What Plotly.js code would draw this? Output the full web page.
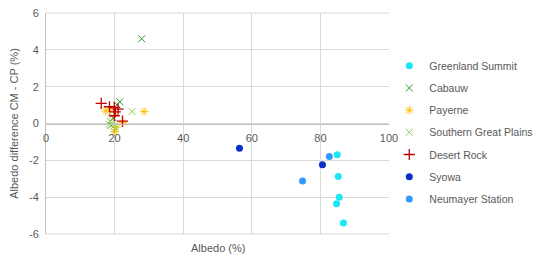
<!DOCTYPE html>
<html>
<head>
<meta charset="utf-8">
<script src="https://cdn.plot.ly/plotly-3.0.1.min.js"></script>
<style>html,body{margin:0;padding:0;background:#fff;}#chart{width:546px;height:260px;}</style>
</head>
<body>
<div id="chart"></div>
<script>
// Data
const greenlandX = [84.9, 85.2, 85.5, 84.7, 86.7];
const greenlandY = [-1.70, -2.88, -4.00, -4.36, -5.40];
const cabauwX = [27.9, 21.5, 20.7, 19.6, 19.0];
const cabauwY = [4.60, 1.18, 1.02, 0.30, -0.10];
const payerneX = [17.4, 18.7, 22.4, 28.6, 20.0, 20.4];
const payerneY = [0.68, 0.74, 0.05, 0.65, -0.45, -0.20];
const sgpX = [25.1, 19.3, 18.8, 19.8, 20.2, 18.5];
const sgpY = [0.65, 0.40, 0.10, -0.15, -0.30, -0.05];
const desertX = [16.1, 18.5, 19.9, 21.0, 20.2, 19.9, 22.3];
const desertY = [1.09, 0.91, 0.87, 0.78, 0.63, 0.42, 0.13];
const syowaX = [56.4, 80.6];
const syowaY = [-1.35, -2.24];
const neumayerX = [82.6, 74.8];
const neumayerY = [-1.79, -3.12];
const seriesNames = ["Greenland Summit", "Cabauw", "Payerne", "Southern Great Plains", "Desert Rock", "Syowa", "Neumayer Station"];
const xTicks = [0, 20, 40, 60, 80, 100];
const yTicks = [-6, -4, -2, 0, 2, 4, 6];

const txt = '#595959';
const font = {family: 'Liberation Sans, Arial, sans-serif', size: 11, color: txt};
const legFont = {family: 'Liberation Sans, Arial, sans-serif', size: 10.5, color: txt};

function tr(name, x, y, symbol, color, size, lw) {
  return {
    type: 'scatter', mode: 'markers', name: name, x: x, y: y,
    legendgroup: name,
    marker: {symbol: symbol, color: color, size: size, line: {color: color, width: lw}},
    cliponaxis: false
  };
}

const data = [
  tr(seriesNames[0], greenlandX, greenlandY, 'circle', '#1ae6f5', 7, 0),
  tr(seriesNames[1], cabauwX, cabauwY, 'x-thin-open', '#2e9a2e', 7, 1),
  tr(seriesNames[2], payerneX, payerneY, 'asterisk-open', '#ffc000', 7, 1),
  tr(seriesNames[3], sgpX, sgpY, 'x-thin-open', '#92d050', 7, 1),
  tr(seriesNames[4], desertX, desertY, 'cross-thin-open', '#c00000', 8, 1.3),
  tr(seriesNames[5], syowaX, syowaY, 'circle', '#0a2fc8', 7, 0),
  tr(seriesNames[6], neumayerX, neumayerY, 'circle', '#3399ff', 7, 0)
];

const layout = {
  width: 546, height: 260,
  margin: {l: 46, r: 157, t: 12.5, b: 26, pad: 0, autoexpand: false},
  paper_bgcolor: '#fff', plot_bgcolor: '#fff',
  font: font,
  showlegend: true,
  legend: {
    xref: 'container', yref: 'container',
    x: 0.713, y: 0.803, xanchor: 'left', yanchor: 'top',
    font: legFont, traceorder: 'grouped', tracegroupgap: 3.2,
    itemwidth: 30, bgcolor: 'rgba(0,0,0,0)', maxheight: 250
  },
  xaxis: {
    range: [0, 100], tickvals: xTicks, ticktext: xTicks.map(String),
    showgrid: true, gridcolor: '#d9d9d9', gridwidth: 1,
    zeroline: false, showline: true, linecolor: '#bfbfbf', linewidth: 1,
    anchor: 'free', position: 0.5, ticks: '', tickfont: font, ticklabelstandoff: 4,
    fixedrange: true
  },
  yaxis: {
    range: [-6, 6], tickvals: yTicks, ticktext: yTicks.map(String),
    showgrid: true, gridcolor: '#d9d9d9', gridwidth: 1,
    zeroline: false, showline: true, linecolor: '#bfbfbf', linewidth: 1,
    ticks: '', tickfont: font, ticklabelstandoff: 4,
    title: {text: 'Albedo difference CM - CP (%)', font: font, standoff: 8},
    fixedrange: true
  },
  shapes: [
    {type: 'line', xref: 'paper', yref: 'paper', x0: 0, x1: 1, y0: 1, y1: 1, line: {color: '#d9d9d9', width: 1}},
    {type: 'line', xref: 'paper', yref: 'paper', x0: 0, x1: 1, y0: 0, y1: 0, line: {color: '#d9d9d9', width: 1}}
  ],
  annotations: [
    {text: 'Albedo (%)', xref: 'paper', yref: 'paper', x: 0.5, y: 0, yshift: -6,
     xanchor: 'center', yanchor: 'top', showarrow: false, font: font}
  ]
};

Plotly.newPlot('chart', data, layout, {displayModeBar: false, staticPlot: true});
</script>
</body>
</html>
